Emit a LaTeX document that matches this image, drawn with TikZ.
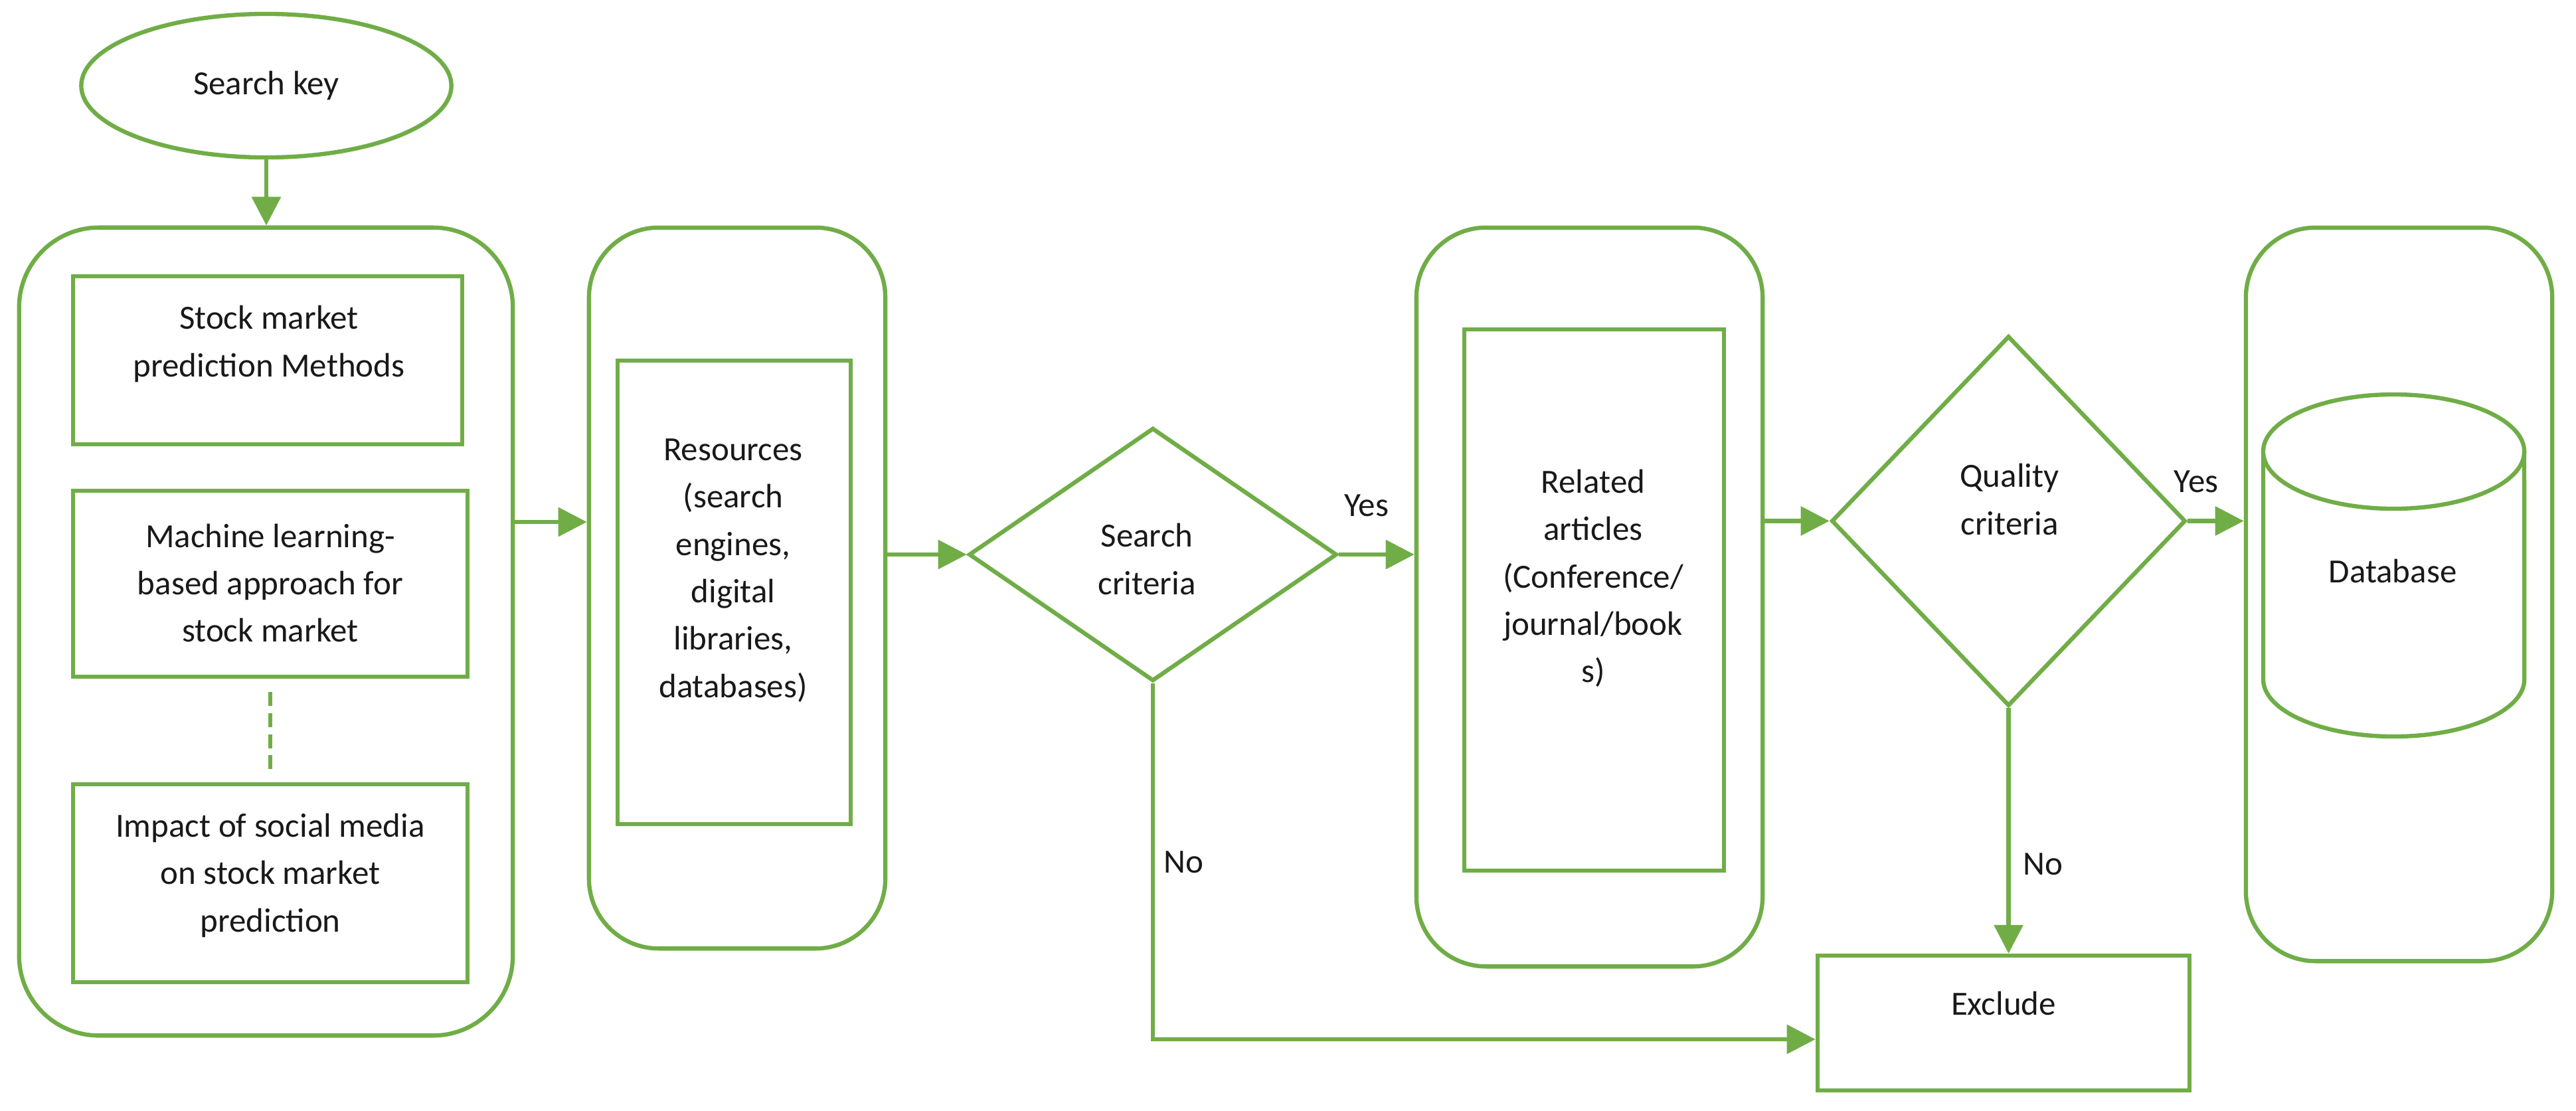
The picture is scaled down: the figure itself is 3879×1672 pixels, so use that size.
\documentclass[tikz,border=0pt]{standalone}
\usepackage{fontspec}
\setmainfont{Carlito}
\usetikzlibrary{shapes.geometric,arrows.meta,calc}
\definecolor{lgreen}{RGB}{112,173,71}
\definecolor{txt}{RGB}{25,25,25}
\begin{document}
\begin{tikzpicture}[x=0.01cm,y=-0.01cm,
  line width=1.8pt,
  every node/.style={font=\fontsize{14.5}{20.3}\selectfont, text=txt},
  roundbox/.style={draw=lgreen, rectangle, rounded corners=1.05cm, inner sep=0pt},
  sqbox/.style={draw=lgreen, rectangle, inner sep=0pt},
  lbl/.style={align=center, inner sep=0pt},
  decision/.style={draw=lgreen, diamond, inner sep=0pt},
  arr/.style={draw=lgreen, -{Triangle[length=0.43cm,width=0.43cm]}},
  conn/.style={draw=lgreen}]
\useasboundingbox (0,0) rectangle (3879,1672);

% start ellipse
\node[draw=lgreen, ellipse, minimum width=5.57cm, minimum height=2.16cm, inner sep=0pt] (sk) at (401,129) {Search key};

% group 1
\node[roundbox, rounded corners=1.2cm, minimum width=7.43cm, minimum height=12.16cm] (b1) at (400.5,951) {};
\node[sqbox, minimum width=5.86cm, minimum height=2.53cm] (bA) at (403,542.5) {};
\node[sqbox, minimum width=5.94cm, minimum height=2.80cm] (bB) at (407,879) {};
\node[sqbox, minimum width=5.94cm, minimum height=2.98cm] (bC) at (407,1330) {};
\node[lbl] (tA) at (405,518) {Stock market\\prediction Methods};
\node[lbl] (tB) at (407,878) {Machine learning-\\based approach for\\stock market};
\node[lbl] (tC) at (407,1318) {Impact of social media\\on stock market\\prediction};

% group 2
\node[roundbox, minimum width=4.46cm, minimum height=10.85cm] (b2) at (1110,885.5) {};
\node[sqbox, minimum width=3.51cm, minimum height=6.98cm] (bR) at (1105.5,892) {};
\node[lbl] (tR) at (1104,859) {Resources\\(search\\engines,\\digital\\libraries,\\databases)};

% search criteria
\node[decision, minimum width=5.54cm, minimum height=3.81cm] (sc) at (1736,835) {};
\node[lbl] (tS) at (1727,842) {Search\\criteria};

% group 4
\node[roundbox, minimum width=5.21cm, minimum height=11.12cm] (b4) at (2393.5,899) {};
\node[sqbox, minimum width=3.91cm, minimum height=8.15cm] (bRel) at (2400.5,903.5) {};
\node[lbl] (tRel) at (2399,871) {Related\\articles\\(Conference/\\journal/book\\s)};

% quality criteria
\node[decision, minimum width=5.33cm, minimum height=5.57cm] (qc) at (3024.5,784.5) {};
\node[lbl] (tQ) at (3026,752) {Quality\\criteria};

% group 5 with database cylinder
\node[roundbox, minimum width=4.61cm, minimum height=11.04cm] (b5) at (3612.5,895) {};
\draw[lgreen] (3408,680) -- (3408,1023) arc[start angle=180, end angle=360, x radius=1.965cm, y radius=0.86cm] -- (3801,680);
\draw[lgreen] (3604.5,680) ellipse [x radius=1.965cm, y radius=0.86cm];
\node[lbl] (tD) at (3603,860) {Database};

% exclude
\node[sqbox, minimum width=5.60cm, minimum height=2.03cm] (ex) at (3017,1540.5) {};
\node[lbl] (tE) at (3017,1511) {Exclude};

% labels
\node[lbl] (yes1) at (2058,761) {Yes};
\node[lbl] (yes2) at (3307,725) {Yes};
\node[lbl] (no1) at (1782,1298) {No};
\node[lbl] (no2) at (3076,1301) {No};

% connectors
\coordinate (r1) at (0,786);
\coordinate (r2) at (0,1565);
\draw[arr] (sk.south) -- (sk.south |- b1.north);
\draw[arr] (b1.east |- r1) -- (b2.west |- r1);
\draw[arr] (b2.east |- sc.west) -- (sc.west);
\draw[arr] (sc.east) -- (b4.west |- sc.east);
\draw[arr] (b4.east |- qc.west) -- (qc.west);
\draw[arr] (qc.east) -- (b5.west |- qc.east);
\draw[arr] (qc.south) -- (qc.south |- ex.north);
\draw[arr] (sc.south) -- (sc.south |- r2) -- (ex.west |- r2);
\draw[conn, line width=1.6pt, dash pattern=on 6pt off 3pt] ([yshift=-0.2cm]bB.south) -- ([yshift=0.16cm]bC.north);
\end{tikzpicture}
\end{document}
